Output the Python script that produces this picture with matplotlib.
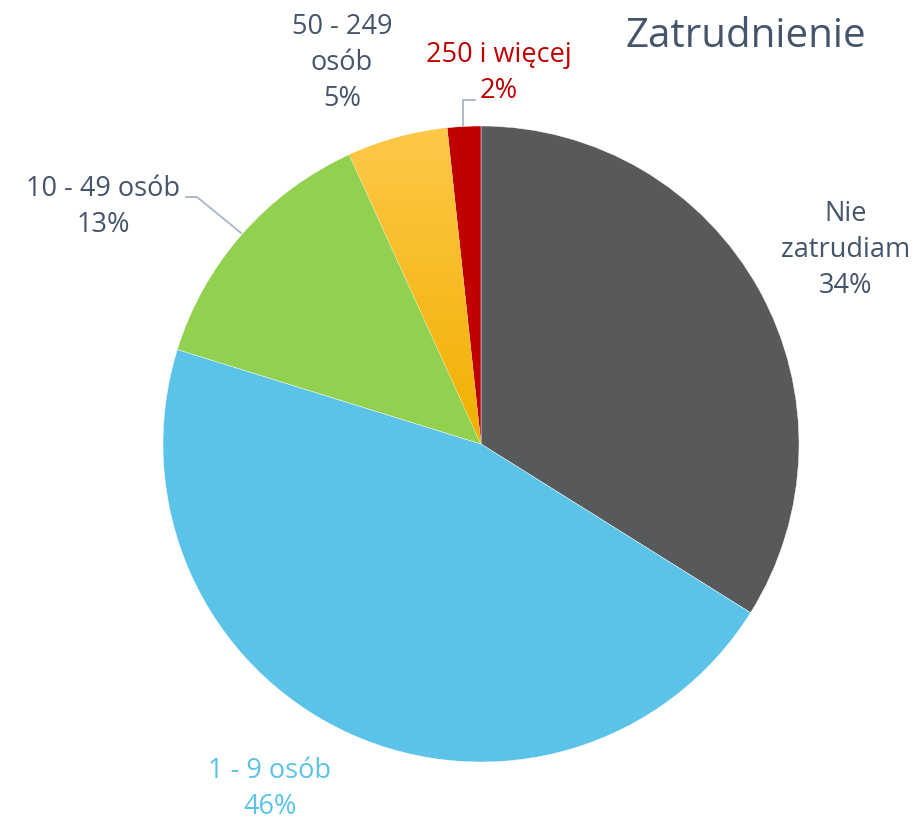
import numpy as np
import matplotlib.pyplot as plt
from matplotlib.colors import LinearSegmentedColormap

plt.rcParams['font.family'] = ['Open Sans', 'DejaVu Sans']

# data (share of respondents, %)
categories = ['Nie\nzatrudiam', '1 - 9 osób', '10 - 49 osób', '50 - 249\nosób', '250 i więcej']
values = [33.9, 45.9, 13.4, 5.1, 1.7]
colors = ['#58595b', '#5bc3e8', '#92d050', '#ffc000', '#c00000']
label_colors = ['#44546a', '#5bc3e8', '#44546a', '#44546a', '#c00000']

W, H = 917, 821
fig = plt.figure(figsize=(W / 100, H / 100), dpi=100)
ax = fig.add_axes([0, 0, 1, 1])

cx, cy, r = 481, H - 444, 318
wedges, _ = ax.pie(values, colors=colors, startangle=90, counterclock=False,
                   center=(cx, cy), radius=r, frame=True,
                   wedgeprops=dict(edgecolor='white', linewidth=0.3))
ax.set_xlim(0, W)
ax.set_ylim(0, H)
ax.set_aspect('equal')
ax.axis('off')

# gradient on the yellow slice
yel = wedges[3]
grad = np.linspace(0, 1, 256).reshape(-1, 1)
cmap = LinearSegmentedColormap.from_list('yel', ['#f0b000', '#ffc84a'])
im = ax.imshow(grad, cmap=cmap, origin='lower', aspect='auto',
               extent=(cx - 140, cx, cy, cy + r + 5), zorder=yel.get_zorder())
im.set_clip_path(yel)
yel.set_facecolor('none')

# labels (pixel positions from the top)
pos = [(846, 250), (270, 789), (103, 207), (342, 63), (499, 73)]
for cat, v, (x, y), c in zip(categories, values, pos, label_colors):
    ax.text(x, H - y, f'{cat}\n{round(v)}%', ha='center', va='center',
            fontsize=19.5, color=c, linespacing=1.38)

# leader lines
lc = '#a9b6c8'
ax.plot([186, 197, 241], [H - 197, H - 197, H - 233], color=lc, lw=1.3)
ax.plot([475, 463, 463], [H - 100, H - 100, H - 126], color=lc, lw=1.3)

ax.text(746, H - 37, 'Zatrudnienie', ha='center', va='center',
        fontsize=29, color='#44546a')

fig.savefig('out.png', dpi=100)
